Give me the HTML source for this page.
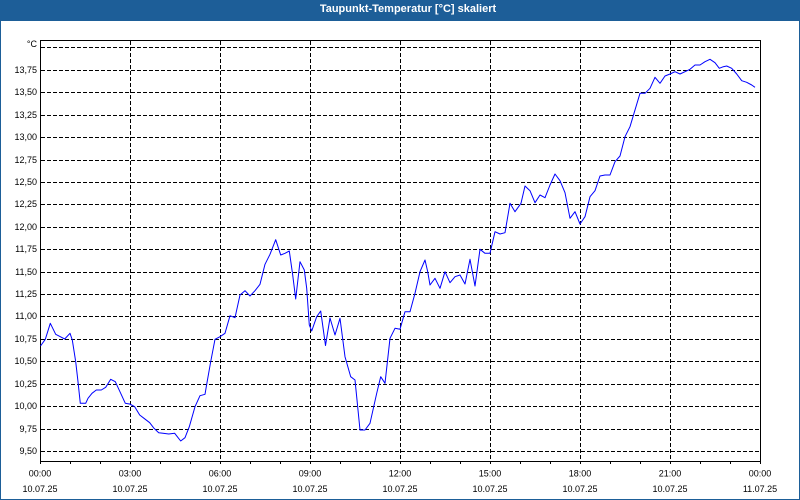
<!DOCTYPE html>
<html><head><meta charset="utf-8"><style>
html,body{margin:0;padding:0;background:#fff;}
svg{display:block;}
text{font-family:"Liberation Sans",sans-serif;}
</style></head><body>
<svg width="800" height="500" viewBox="0 0 800 500" xmlns="http://www.w3.org/2000/svg">
<rect x="0" y="0" width="800" height="500" fill="#fff"/>
<rect x="0.5" y="0.5" width="799" height="499" fill="none" stroke="#1d5e98" stroke-width="1"/>
<rect x="0" y="0" width="800" height="21" fill="#1d5e98"/>
<text x="408" y="12" font-size="11" font-weight="bold" fill="#fff" text-anchor="middle">Taupunkt-Temperatur [°C] skaliert</text>

<g stroke="#000" stroke-width="1" stroke-dasharray="4 2" shape-rendering="crispEdges" fill="none">
<path d="M41 47.5H760M41 70.5H760M41 92.5H760M41 115.5H760M41 137.5H760M41 160.5H760M41 182.5H760M41 204.5H760M41 227.5H760M41 249.5H760M41 272.5H760M41 294.5H760M41 316.5H760M41 339.5H760M41 361.5H760M41 384.5H760M41 406.5H760M41 429.5H760M41 451.5H760"/>
<path d="M130.5 41V461M220.5 41V461M310.5 41V461M400.5 41V461M490.5 41V461M580.5 41V461M670.5 41V461"/>
</g>

<g stroke="#000" stroke-width="1" shape-rendering="crispEdges" fill="none">
<path d="M40.5 40.5H760.5V461.5H40.5Z"/>
<path d="M40.5 461V464M70.5 461V464M100.5 461V464M130.5 461V464M160.5 461V464M190.5 461V464M220.5 461V464M250.5 461V464M280.5 461V464M310.5 461V464M340.5 461V464M370.5 461V464M400.5 461V464M430.5 461V464M460.5 461V464M490.5 461V464M520.5 461V464M550.5 461V464M580.5 461V464M610.5 461V464M640.5 461V464M670.5 461V464M700.5 461V464M730.5 461V464M760.5 461V464"/>
</g>

<g font-size="9" fill="#000" text-anchor="end">
<text x="37" y="47">°C</text>
<text x="37" y="73">13,75</text>
<text x="37" y="95">13,50</text>
<text x="37" y="118">13,25</text>
<text x="37" y="140">13,00</text>
<text x="37" y="163">12,75</text>
<text x="37" y="185">12,50</text>
<text x="37" y="207">12,25</text>
<text x="37" y="230">12,00</text>
<text x="37" y="252">11,75</text>
<text x="37" y="275">11,50</text>
<text x="37" y="297">11,25</text>
<text x="37" y="319">11,00</text>
<text x="37" y="342">10,75</text>
<text x="37" y="364">10,50</text>
<text x="37" y="387">10,25</text>
<text x="37" y="409">10,00</text>
<text x="37" y="432">9,75</text>
<text x="37" y="454">9,50</text>
</g>

<g font-size="9" fill="#000" text-anchor="middle">
<text x="40" y="476.5">00:00</text><text x="40" y="492">10.07.25</text>
<text x="130" y="476.5">03:00</text><text x="130" y="492">10.07.25</text>
<text x="220" y="476.5">06:00</text><text x="220" y="492">10.07.25</text>
<text x="310" y="476.5">09:00</text><text x="310" y="492">10.07.25</text>
<text x="400" y="476.5">12:00</text><text x="400" y="492">10.07.25</text>
<text x="490" y="476.5">15:00</text><text x="490" y="492">10.07.25</text>
<text x="580" y="476.5">18:00</text><text x="580" y="492">10.07.25</text>
<text x="670" y="476.5">21:00</text><text x="670" y="492">10.07.25</text>
<text x="760" y="476.5">00:00</text><text x="760" y="492">11.07.25</text>
</g>

<polyline fill="none" stroke="#0000ff" stroke-width="1" stroke-linejoin="round" points="
40.5,346 45.3,339.3 50.3,323.3 55.7,334.3 60.3,336.7 64.7,339 70,333.3 72.3,340 75.7,361.7 78,381.7 80.3,403.3 85.7,403.3 88,398.3 92,393.3 96.3,390 101.3,390 105.7,387.3 110.7,379.3 115.3,381.7 120.7,393.3 125.3,403.3 129.7,404 134.7,406.7 139.7,415 144,418.3 149.7,422.7 154,428.3 158.7,432.7 163,433.3 168.7,434 174.7,433.3 177.3,436.7 180.7,441 185,437.7 189.3,426.7 195,406.7 200,395.7 205,394.3 206.7,384.3 210.7,361.7 215,339.3 220,336.7 225,333.3 230,315.7 235,317.7 240,295 245,290.7 250,296 255,290.7 260,284.3 265,264.3 270,254.3 275.7,239.7 280.7,255 285,253.3 289.3,251 292.7,275 295.7,299 300,261.7 304.3,270 306.7,288.3 309.3,325 311.7,331 316.7,316.7 320.7,311 325.5,345.5 330,318 335,335 340,318.3 345,356.7 350.7,376.7 355,380 360,430 365,430 370,423.3 376.7,393.3 380.7,376.7 385,383.3 390,338.3 395,328.3 400,329.3 405,311.7 410,311.7 415,293.3 420,271.7 425,260 427.7,271.7 430,285 435,278.3 440,288.3 445,271.7 450,282.7 455,276.7 460,275 465,284 470,259.3 475,286 480,249.3 485,253.3 490,253.3 495,231.7 500,234 505,232.7 510,203.3 515,211.7 521,203.3 525,186 530,190.7 535,202.7 540,195 545,197.7 550,185 555,174 560,180.7 565,192.7 570,218.3 575,211.7 580,224 585,216.7 590,196.7 595,190.7 600,176 605,175 610,175 615,161.7 620,156 625,136.7 630,126.7 634,113.3 640,93.3 645,93.3 650,88.3 655,77.3 660,83.3 665,76 670,74 675,71.7 680,74 685,71.7 690,69.3 695,65 700,65 705,61.7 710,59.3 715,62.7 719.3,68.3 723.3,66.7 726.7,66 731.7,68.3 736.7,74 741.7,80.7 746.7,82.3 751.7,85 755,87.3"/>
</svg>
</body></html>
